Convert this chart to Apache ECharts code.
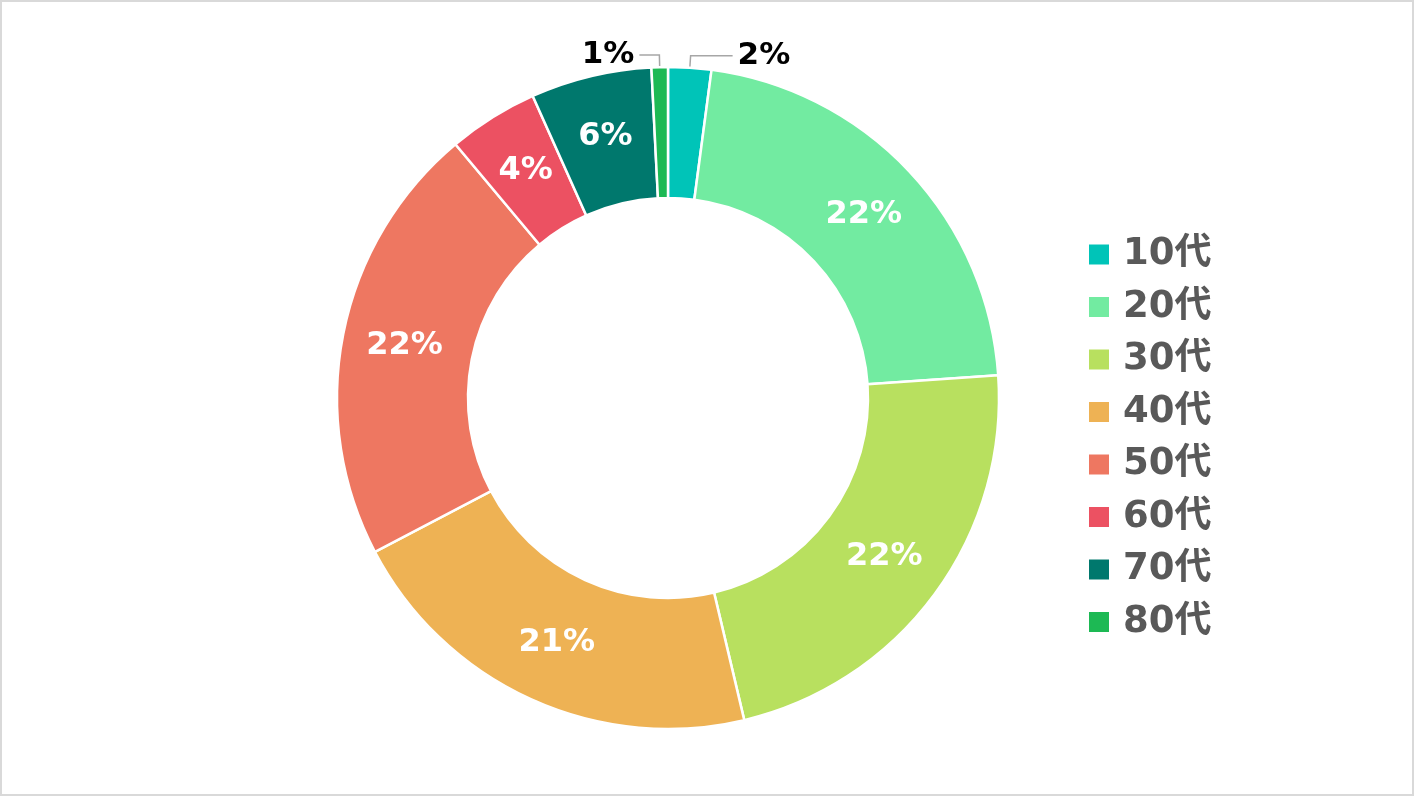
<!DOCTYPE html>
<html>
<head>
<meta charset="utf-8">
<script src="https://cdn.jsdelivr.net/npm/echarts@6/dist/echarts.min.js"></script>
<style>
html,body{margin:0;padding:0;background:#fff;}
#frame{width:1414px;height:796px;box-sizing:border-box;border:2px solid #d9d9d9;position:relative;}
#chart{position:absolute;left:-2px;top:-2px;width:1414px;height:796px;}
</style>
</head>
<body>
<div id="frame"><div id="chart"></div></div>
<script>
const categories = ['10代','20代','30代','40代','50代','60代','70代','80代'];
const values = [2.1, 21.8, 22.4, 21.0, 21.6, 4.4, 5.9, 0.8];
const colors = ['#00C4B8','#72EBA1','#B8E05F','#EEB254','#EE7761','#EC5162','#00786D','#1DB954'];
const outsideLabels = ['10代','80代'];

const FONT = '"DejaVu Sans", "Noto Sans CJK JP", sans-serif';
const data = categories.map((c, i) => {
  const item = { name: c, value: values[i], itemStyle: { color: colors[i] } };
  if (outsideLabels.includes(c)) {
    item.label = { position: 'outside', color: '#000000', fontSize: 31 };
    item.labelLine = { show: true, length: 12, length2: c === '10代' ? 42 : 20 };
  }
  return item;
});

const chart = echarts.init(document.getElementById('chart'));
chart.setOption({
  animation: false,
  backgroundColor: 'transparent',
  legend: {
    orient: 'vertical',
    left: 1087,
    top: 236,
    padding: 0,
    itemWidth: 22,
    itemHeight: 22,
    itemGap: 15.5,
    icon: 'rect',
    data: categories,
    textStyle: { fontFamily: FONT, fontSize: 37, fontWeight: 'bold', color: '#595959', lineHeight: 36, padding: [0,0,0,8] }
  },
  series: [{
    type: 'pie',
    center: [668, 398],
    radius: [200, 331],
    startAngle: 90,
    clockwise: true,
    percentPrecision: 0,
    avoidLabelOverlap: false,
    itemStyle: { borderColor: '#ffffff', borderWidth: 2.5 },
    label: {
      show: true,
      position: 'inside',
      formatter: '{d}%',
      fontFamily: FONT,
      fontSize: 32,
      fontWeight: 'bold',
      color: '#ffffff'
    },
    labelLine: {
      show: true,
      length: 12,
      length2: 10,
      lineStyle: { color: '#a6a6a6', width: 1.5 }
    },
    emphasis: { disabled: true },
    data: data
  }]
});
</script>
</body>
</html>
